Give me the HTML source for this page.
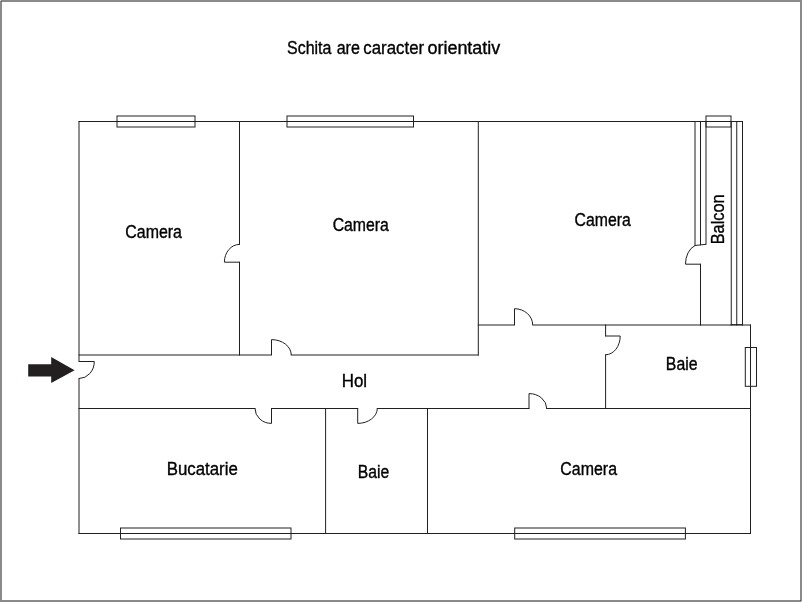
<!DOCTYPE html>
<html><head><meta charset="utf-8"><style>
html,body{margin:0;padding:0;background:#fff;}
body{width:802px;height:602px;overflow:hidden;position:relative;}
.frame{position:absolute;left:0;top:0;width:798px;height:598px;border:2px solid #8a8a8a;}
svg{position:absolute;left:0;top:0;will-change:transform;}
text{font-family:"Liberation Sans",sans-serif;fill:#000;stroke:#000;stroke-width:0.35px;}
</style></head><body>
<div class="frame"></div>
<div style="position:absolute;left:0;top:0;width:1px;height:1px;background:#dcdcdc"></div>
<div style="position:absolute;left:1px;top:1px;width:1px;height:1px;background:#5a5a5a"></div>
<div style="position:absolute;left:800px;top:600px;width:1px;height:1px;background:#5a5a5a"></div>
<div style="position:absolute;left:801px;top:601px;width:1px;height:1px;background:#cfcfcf"></div>
<svg width="802" height="602" viewBox="0 0 802 602">
<line x1="79" y1="121.5" x2="742.5" y2="121.5" stroke="#231f20" stroke-width="1" stroke-linecap="square"/>
<line x1="79" y1="121.5" x2="79" y2="361.5" stroke="#231f20" stroke-width="1" stroke-linecap="square"/>
<line x1="79" y1="378.5" x2="79" y2="533.5" stroke="#231f20" stroke-width="1" stroke-linecap="square"/>
<line x1="239.5" y1="121.5" x2="239.5" y2="244.4" stroke="#231f20" stroke-width="1" stroke-linecap="square"/>
<line x1="239.5" y1="262.2" x2="239.5" y2="355" stroke="#231f20" stroke-width="1" stroke-linecap="square"/>
<line x1="79" y1="355" x2="271.5" y2="355" stroke="#231f20" stroke-width="1" stroke-linecap="square"/>
<line x1="291.25" y1="355" x2="478.3" y2="355" stroke="#231f20" stroke-width="1" stroke-linecap="square"/>
<line x1="478.3" y1="121.5" x2="478.3" y2="355" stroke="#231f20" stroke-width="1" stroke-linecap="square"/>
<line x1="478.3" y1="325" x2="514.5" y2="325" stroke="#231f20" stroke-width="1" stroke-linecap="square"/>
<line x1="532.8" y1="325" x2="750.5" y2="325" stroke="#231f20" stroke-width="1" stroke-linecap="square"/>
<line x1="700.5" y1="264.2" x2="700.5" y2="325" stroke="#231f20" stroke-width="1" stroke-linecap="square"/>
<line x1="605.6" y1="325" x2="605.6" y2="336" stroke="#231f20" stroke-width="1" stroke-linecap="square"/>
<line x1="605.6" y1="354.75" x2="605.6" y2="408.5" stroke="#231f20" stroke-width="1" stroke-linecap="square"/>
<line x1="750.5" y1="325" x2="750.5" y2="533.5" stroke="#231f20" stroke-width="1" stroke-linecap="square"/>
<line x1="79" y1="408.5" x2="255" y2="408.5" stroke="#231f20" stroke-width="1" stroke-linecap="square"/>
<line x1="271.5" y1="408.5" x2="357.7" y2="408.5" stroke="#231f20" stroke-width="1" stroke-linecap="square"/>
<line x1="377.3" y1="408.5" x2="529" y2="408.5" stroke="#231f20" stroke-width="1" stroke-linecap="square"/>
<line x1="546.6" y1="408.5" x2="750.5" y2="408.5" stroke="#231f20" stroke-width="1" stroke-linecap="square"/>
<line x1="325.6" y1="408.5" x2="325.6" y2="533.5" stroke="#231f20" stroke-width="1" stroke-linecap="square"/>
<line x1="427.5" y1="408.5" x2="427.5" y2="533.5" stroke="#231f20" stroke-width="1" stroke-linecap="square"/>
<line x1="79" y1="533.5" x2="750.5" y2="533.5" stroke="#231f20" stroke-width="1" stroke-linecap="square"/>
<line x1="695" y1="121.5" x2="695" y2="245.5" stroke="#231f20" stroke-width="1" stroke-linecap="square"/>
<line x1="700.5" y1="121.5" x2="700.5" y2="244.8" stroke="#231f20" stroke-width="1" stroke-linecap="square"/>
<line x1="706" y1="121.5" x2="706" y2="244.3" stroke="#231f20" stroke-width="1" stroke-linecap="square"/>
<path d="M695,245.5 L706,244.3" fill="none" stroke="#231f20" stroke-width="1"/>
<line x1="731.25" y1="121.5" x2="731.25" y2="325" stroke="#231f20" stroke-width="1" stroke-linecap="square"/>
<line x1="736.75" y1="121.5" x2="736.75" y2="325" stroke="#231f20" stroke-width="1" stroke-linecap="square"/>
<line x1="731.25" y1="324.7" x2="742.5" y2="324.7" stroke="#231f20" stroke-width="1" stroke-linecap="square"/>
<line x1="742.5" y1="121.5" x2="742.5" y2="325" stroke="#231f20" stroke-width="1" stroke-linecap="square"/>
<path d="M239.5,244.4 A15.1,17.8 0 0 0 224.4,262.2 L239.5,262.2" fill="none" stroke="#231f20" stroke-width="1"/>
<path d="M271.5,355 L271.5,339.6 A19.75,15.4 0 0 1 291.25,355" fill="none" stroke="#231f20" stroke-width="1"/>
<path d="M79,361.5 L94.3,361.5 A15.3,17 0 0 1 79,378.5" fill="none" stroke="#231f20" stroke-width="1"/>
<path d="M514.5,325 L514.5,308.7 A18.2,16.3 0 0 1 532.7,325" fill="none" stroke="#231f20" stroke-width="1"/>
<path d="M605.6,336 L620.2,336 A14.6,18.75 0 0 1 605.6,354.75" fill="none" stroke="#231f20" stroke-width="1"/>
<path d="M255,408.5 A16.5,14.9 0 0 0 271.5,423.4 L271.5,408.5" fill="none" stroke="#231f20" stroke-width="1"/>
<path d="M357.7,408.5 L357.7,423.4 A19.6,15.1 0 0 0 377.3,408.5" fill="none" stroke="#231f20" stroke-width="1"/>
<path d="M529,408.5 L529,393.6 A17.7,14.9 0 0 1 546.7,408.5" fill="none" stroke="#231f20" stroke-width="1"/>
<path d="M695,245.5 A15,19.7 0 0 0 685.5,264.2 L700.5,264.2" fill="none" stroke="#231f20" stroke-width="1"/>
<rect x="117" y="116" width="78" height="11" fill="none" stroke="#231f20" stroke-width="1"/>
<rect x="287" y="116" width="126.5" height="11" fill="none" stroke="#231f20" stroke-width="1"/>
<rect x="706" y="116" width="25" height="11" fill="none" stroke="#231f20" stroke-width="1"/>
<rect x="745.3" y="347.5" width="11.200000000000045" height="38.80000000000001" fill="none" stroke="#231f20" stroke-width="1"/>
<rect x="120.5" y="528" width="170.5" height="11" fill="none" stroke="#231f20" stroke-width="1"/>
<rect x="514.7" y="528" width="170.69999999999993" height="11" fill="none" stroke="#231f20" stroke-width="1"/>
<path d="M28.2,364.2 L51.2,364.2 L51.2,357 L74.6,370.2 L51.2,383 L51.2,376.6 L28.2,376.6 Z" fill="#231f20"/>
<text x="287.01" y="53.69" textLength="44.41" lengthAdjust="spacingAndGlyphs" font-size="17.5">Schita</text>
<text x="336.66" y="53.7" textLength="23.27" lengthAdjust="spacingAndGlyphs" font-size="17.5">are</text>
<text x="363.34" y="53.69" textLength="60.86" lengthAdjust="spacingAndGlyphs" font-size="17.5">caracter</text>
<text x="427.42" y="53.69" textLength="72.94" lengthAdjust="spacingAndGlyphs" font-size="17.5">orientativ</text>
<text x="125.27" y="237.72" textLength="56.7" lengthAdjust="spacingAndGlyphs" font-size="17.5">Camera</text>
<text x="332.65" y="230.93" textLength="56.27" lengthAdjust="spacingAndGlyphs" font-size="17.5">Camera</text>
<text x="574.62" y="225.66" textLength="56.22" lengthAdjust="spacingAndGlyphs" font-size="17.5">Camera</text>
<text x="665.83" y="369.55" textLength="31.7" lengthAdjust="spacingAndGlyphs" font-size="17.5">Baie</text>
<text x="341.79" y="386.74" textLength="25.35" lengthAdjust="spacingAndGlyphs" font-size="17.5">Hol</text>
<text x="166.69" y="474.81" textLength="71.12" lengthAdjust="spacingAndGlyphs" font-size="17.5">Bucatarie</text>
<text x="357.86" y="477.66" textLength="31.51" lengthAdjust="spacingAndGlyphs" font-size="17.5">Baie</text>
<text x="560.35" y="474.72" textLength="56.65" lengthAdjust="spacingAndGlyphs" font-size="17.5">Camera</text>
<text x="0" y="0" transform="translate(724.2,244.3) rotate(-90)" textLength="50.0" lengthAdjust="spacingAndGlyphs" font-size="17.5">Balcon</text>
</svg>
</body></html>
